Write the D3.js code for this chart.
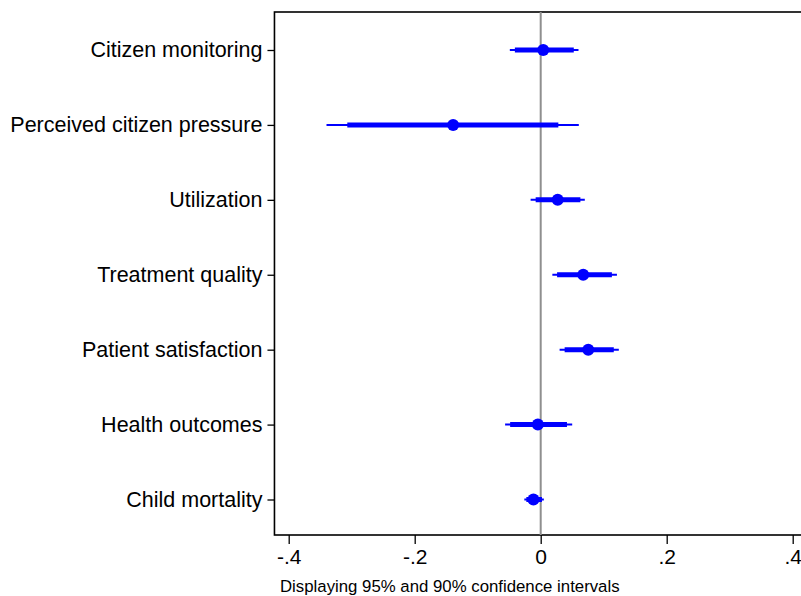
<!DOCTYPE html>
<html>
<head>
<meta charset="utf-8">
<script src="https://cdn.jsdelivr.net/npm/d3@7"></script>
<style>
  html, body { margin: 0; padding: 0; background: #fff; }
  svg { display: block; font-family: "Liberation Sans", Arial, Helvetica, sans-serif; }
</style>
</head>
<body>
<svg id="chart" width="801" height="596"></svg>
<script>
// Outcome labels, top to bottom
const categories = [
  "Citizen monitoring",
  "Perceived citizen pressure",
  "Utilization",
  "Treatment quality",
  "Patient satisfaction",
  "Health outcomes",
  "Child mortality"
];
// Point estimates
const estimates = [0.004, -0.139, 0.027, 0.0675, 0.0755, -0.0045, -0.0115];
// 95% confidence bounds
const ci95Low  = [-0.049, -0.340, -0.016, 0.0185, 0.030, -0.0565, -0.026];
const ci95High = [0.060, 0.0605, 0.070, 0.121, 0.124, 0.050, 0.005];
// 90% confidence bounds
const ci90Low  = [-0.041, -0.307, -0.008, 0.026, 0.038, -0.0485, -0.0228];
const ci90High = [0.0525, 0.028, 0.063, 0.113, 0.116, 0.0417, 0.002];
// x-axis ticks
const xTicks = [-0.4, -0.2, 0, 0.2, 0.4];
const xTickLabels = ["-.4", "-.2", "0", ".2", ".4"];
const note = "Displaying 95% and 90% confidence intervals";

const svg = d3.select("#chart");

const x = d3.scaleLinear().domain([-0.4, 0.4]).range([288.7, 792.7]);
const y = d3.scalePoint().domain(categories).range([50, 499.5]);

const box = { left: x(-0.4226), right: x(0.4226) + 2, top: 12, bottom: 535 };
const blue = "#0000ff";
const labelFont = "'Liberation Sans', Arial, sans-serif";

// Plot frame
svg.append("rect")
  .attr("x", box.left).attr("y", box.top)
  .attr("width", box.right - box.left).attr("height", box.bottom - box.top)
  .attr("fill", "none").attr("stroke", "#000").attr("stroke-width", 1.6);

// Reference line at zero
svg.append("line")
  .attr("x1", x(0)).attr("x2", x(0))
  .attr("y1", box.top).attr("y2", box.bottom)
  .attr("stroke", "#8f8f8f").attr("stroke-width", 2);

// Bottom axis
const xAxis = d3.axisBottom(x)
  .tickValues(xTicks)
  .tickFormat((d, i) => xTickLabels[i])
  .tickSize(9).tickPadding(5);
const gx = svg.append("g").attr("transform", `translate(0,${box.bottom})`).call(xAxis);
gx.select(".domain").remove();
gx.selectAll(".tick line").attr("stroke", "#000").attr("stroke-width", 1.3);
gx.selectAll(".tick text").attr("fill", "#000").attr("font-size", 21)
  .attr("font-family", labelFont);

// Left axis with category labels
const yAxis = d3.axisLeft(y).tickSize(7).tickPadding(5);
const gy = svg.append("g").attr("transform", `translate(${box.left},0)`).call(yAxis);
gy.select(".domain").remove();
gy.selectAll(".tick line").attr("stroke", "#000").attr("stroke-width", 1.3);
gy.selectAll(".tick text").attr("fill", "#000").attr("font-size", 21.5)
  .attr("font-family", labelFont);

const rows = categories.map((c, i) => ({
  cat: c, est: estimates[i],
  lo95: ci95Low[i], hi95: ci95High[i],
  lo90: ci90Low[i], hi90: ci90High[i]
}));

const g = svg.append("g");

// 95% intervals (thin)
g.selectAll("line.ci95").data(rows).join("line")
  .attr("class", "ci95")
  .attr("x1", d => x(d.lo95)).attr("x2", d => x(d.hi95))
  .attr("y1", d => y(d.cat)).attr("y2", d => y(d.cat))
  .attr("stroke", blue).attr("stroke-width", 2);

// 90% intervals (thick)
g.selectAll("line.ci90").data(rows).join("line")
  .attr("class", "ci90")
  .attr("x1", d => x(d.lo90)).attr("x2", d => x(d.hi90))
  .attr("y1", d => y(d.cat)).attr("y2", d => y(d.cat))
  .attr("stroke", blue).attr("stroke-width", 5);

// Point estimates
g.selectAll("circle.est").data(rows).join("circle")
  .attr("class", "est")
  .attr("cx", d => x(d.est)).attr("cy", d => y(d.cat))
  .attr("r", 6).attr("fill", blue);

// Note below the axis
svg.append("text")
  .attr("x", 280).attr("y", 591.5)
  .attr("font-size", 16.8).attr("fill", "#000")
  .attr("font-family", labelFont)
  .text(note);
</script>
</body>
</html>
